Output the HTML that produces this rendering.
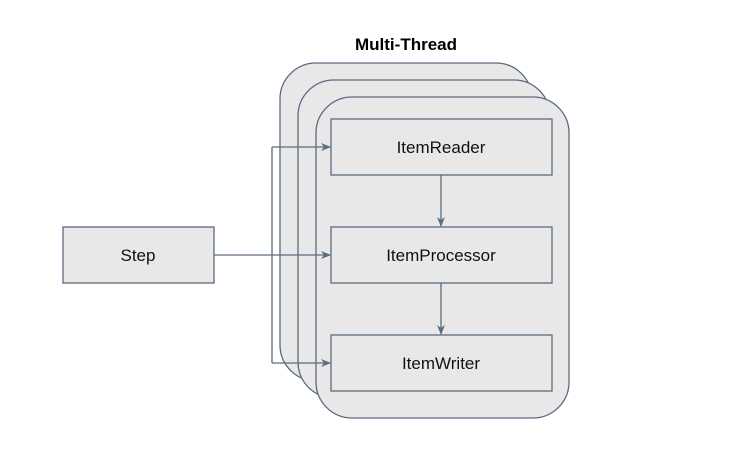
<!DOCTYPE html>
<html><head><style>body{margin:0;background:#fff}</style></head><body>
<svg width="747" height="466" xmlns="http://www.w3.org/2000/svg" font-family="Liberation Sans, sans-serif">
<defs><marker id="a" markerWidth="10" markerHeight="8" refX="9" refY="4" orient="auto" markerUnits="userSpaceOnUse"><path d="M0,0 L10,4 L0,8 L3,4 z" fill="#5b6b80"/></marker></defs>
<text x="406" y="50" text-anchor="middle" font-weight="bold" font-size="17">Multi-Thread</text>
<g fill="#e8e8e8" stroke="#5b6b80" stroke-width="1.3">
<rect x="280" y="63" width="252" height="318" rx="36"/>
<rect x="298" y="80" width="252" height="318" rx="36"/>
<rect x="316" y="97" width="253" height="321" rx="36"/>
<rect x="331" y="119" width="221" height="56"/>
<rect x="331" y="227" width="221" height="56"/>
<rect x="331" y="335" width="221" height="56"/>
<rect x="63" y="227" width="151" height="56"/>
</g>
<g fill="none" stroke="#5b6b80" stroke-width="1.3">
<path d="M214 255 H272"/>
<path d="M272 147 V363"/>
<path d="M272 147 H330" marker-end="url(#a)"/>
<path d="M272 255 H330" marker-end="url(#a)"/>
<path d="M272 363 H330" marker-end="url(#a)"/>
<path d="M441 175 V226" marker-end="url(#a)"/>
<path d="M441 283 V334" marker-end="url(#a)"/>
</g>
<g font-size="17" text-anchor="middle" fill="#111">
<text x="441" y="153">ItemReader</text>
<text x="441" y="261">ItemProcessor</text>
<text x="441" y="369">ItemWriter</text>
<text x="138" y="261">Step</text>
</g>
</svg>
</body></html>
